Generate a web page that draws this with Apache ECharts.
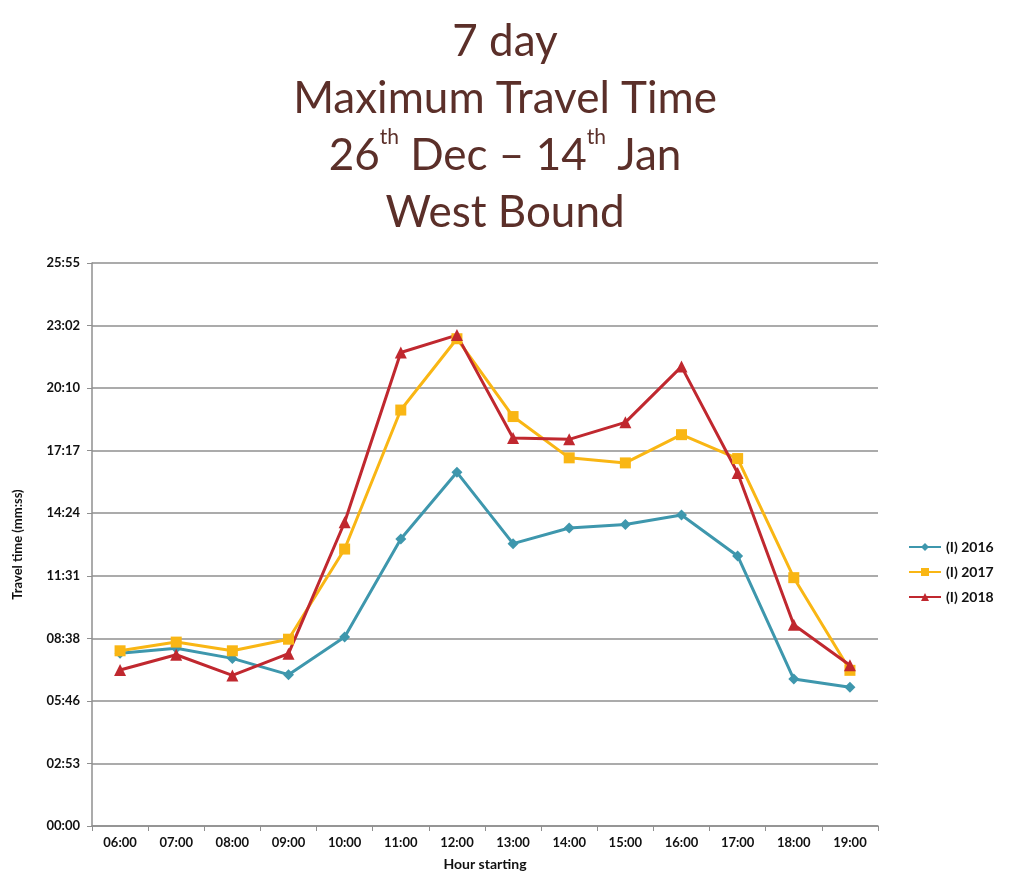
<!DOCTYPE html>
<html>
<head>
<meta charset="utf-8">
<script src="https://cdn.jsdelivr.net/npm/echarts@6/dist/echarts.min.js"></script>
<style>html,body{margin:0;padding:0;background:#fff}#c{width:1010px;height:884px}</style>
</head>
<body>
<div id="c"></div>
<script>
// Data (travel time in seconds)
var categories = ['06:00','07:00','08:00','09:00','10:00','11:00','12:00','13:00','14:00','15:00','16:00','17:00','18:00','19:00'];
var s2016 = [477, 491, 463, 418, 522, 793, 977, 780, 823, 833, 859, 746, 406, 383];
var s2017 = [484, 508, 484, 516, 765, 1149, 1346, 1131, 1017, 1003, 1081, 1015, 686, 430];
var s2018 = [431, 473, 416, 476, 839, 1308, 1356, 1072, 1068, 1115, 1269, 975, 556, 444];
var seriesNames = ['(I) 2016', '(I) 2017', '(I) 2018'];
var yInterval = 172.8;
var yMax = 1555.2;

function fmt(v) {
  var s = Math.round(v);
  var m = Math.floor(s / 60), sec = s % 60;
  return (m < 10 ? '0' : '') + m + ':' + (sec < 10 ? '0' : '') + sec;
}

var chart = echarts.init(document.getElementById('c'));
var titleFont = 'Lato, "Open Sans", sans-serif';
var tc = '#5b2f29';
chart.setOption({
  backgroundColor: '#fff',
  animation: false,
  title: {
    left: 'center',
    top: 8,
    text: '{a|7 day}\n{a|Maximum Travel Time}\n{a|26}{s|th}{a| Dec – 14}{s|th}{a| Jan}\n{a|West Bound}',
    textStyle: {
      fontWeight: 'normal',
      rich: {
        a: { fontFamily: titleFont, fontSize: 44, fontWeight: 'normal', color: tc, lineHeight: 57 },
        s: { fontFamily: titleFont, fontSize: 21, fontWeight: 'normal', color: tc, lineHeight: 57, verticalAlign: 'top', padding: [0, 0, 18, 0] }
      }
    }
  },
  legend: {
    orient: 'vertical',
    left: 903,
    top: 535,
    itemGap: 11,
    itemWidth: 32,
    itemHeight: 10,
    textStyle: { fontFamily: 'Lato, sans-serif', fontWeight: 'bold', fontSize: 14, color: '#111' },
    data: seriesNames
  },
  grid: { left: 92, right: 132, top: 263, bottom: 58 },
  xAxis: {
    type: 'category',
    data: categories,
    boundaryGap: true,
    name: 'Hour starting',
    nameLocation: 'middle',
    nameGap: 31,
    nameTextStyle: { fontFamily: 'Lato, sans-serif', fontWeight: 'bold', fontSize: 14, color: '#111' },
    axisLine: { lineStyle: { color: '#8f8f8f', width: 1.5 } },
    axisTick: { show: true, alignWithLabel: false, length: 5, lineStyle: { color: '#8f8f8f' } },
    axisLabel: { fontFamily: 'Lato, sans-serif', fontWeight: 'bold', fontSize: 13, color: '#111', margin: 10 }
  },
  yAxis: {
    type: 'value',
    min: 0,
    max: yMax,
    interval: yInterval,
    name: 'Travel time (mm:ss)',
    nameLocation: 'middle',
    nameGap: 68,
    nameTextStyle: { fontFamily: 'Lato, sans-serif', fontWeight: 'bold', fontSize: 13, color: '#111' },
    axisLine: { show: true, lineStyle: { color: '#8f8f8f', width: 1.5 } },
    axisTick: { show: true, length: 5, lineStyle: { color: '#8f8f8f' } },
    axisLabel: { formatter: fmt, fontFamily: 'Lato, sans-serif', fontWeight: 'bold', fontSize: 13, color: '#111', margin: 12 },
    splitLine: { lineStyle: { color: '#8f8f8f', width: 1.5 } }
  },
  series: [
    { name: seriesNames[0], type: 'line', data: s2016, symbol: 'diamond', symbolSize: 11,
      itemStyle: { color: '#3e97ad' }, lineStyle: { width: 3, color: '#3e97ad' } },
    { name: seriesNames[1], type: 'line', data: s2017, symbol: 'rect', symbolSize: 11,
      itemStyle: { color: '#f9b614' }, lineStyle: { width: 3, color: '#f9b614' } },
    { name: seriesNames[2], type: 'line', data: s2018, symbol: 'triangle', symbolSize: 12,
      itemStyle: { color: '#c0282f' }, lineStyle: { width: 3, color: '#c0282f' } }
  ]
});
</script>
</body>
</html>
